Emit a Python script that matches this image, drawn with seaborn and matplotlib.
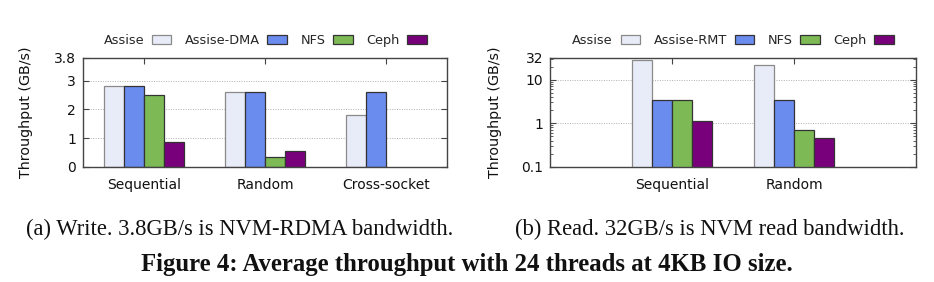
import matplotlib
matplotlib.use("Agg")
import matplotlib.pyplot as plt
import seaborn as sns
import pandas as pd
import numpy as np
from matplotlib.ticker import FixedLocator, NullFormatter, LogLocator

sns.set_theme(style="white")
plt.rcParams['font.family'] = ['DejaVu Sans']

# ---- data ----
write_categories = ["Sequential", "Random", "Cross-socket"]
write_series = ["Assise", "Assise-DMA", "NFS", "Ceph"]
write_assise = [2.82, 2.6, 1.8]
write_dma = [2.82, 2.6, 2.6]
write_nfs = [2.5, 0.35, np.nan]
write_ceph = [0.87, 0.53, np.nan]

read_categories = ["Sequential", "Random"]
read_series = ["Assise", "Assise-RMT", "NFS", "Ceph"]
read_assise = [28.5, 22.0]
read_rmt = [3.5, 3.5]
read_nfs = [3.5, 0.70]
read_ceph = [1.1, 0.45]

write_yticks = [0, 1, 2, 3, 3.8]
write_yticklabels = ["0", "1", "2", "3", "3.8"]
read_yticks = [0.1, 1, 10, 32]
read_yticklabels = ["0.1", "1", "10", "32"]

caption_a = "(a) Write. 3.8GB/s is NVM-RDMA bandwidth."
caption_b = "(b) Read. 32GB/s is NVM read bandwidth."
fig_caption = "Figure 4: Average throughput with 24 threads at 4KB IO size."

colors = ["#e8ecf8", "#6a8cee", "#7dba55", "#78007a"]
edgecolors = ["#8a8a8a", "#333333", "#333333", "#333333"]


def long_df(cats, series, values):
    rows = []
    for s, vals in zip(series, values):
        for c, v in zip(cats, vals):
            rows.append({"cat": c, "series": s, "val": v})
    return pd.DataFrame(rows)


df_w = long_df(write_categories, write_series, [write_assise, write_dma, write_nfs, write_ceph])
df_r = long_df(read_categories, read_series, [read_assise, read_rmt, read_nfs, read_ceph])

W, H = 934, 282
fig = plt.figure(figsize=(W / 100, H / 100), dpi=100)


def add_axes_px(x0, x1, ytop, ybot):
    return fig.add_axes([x0 / W, (H - ybot) / H, (x1 - x0) / W, (ybot - ytop) / H])


ax1 = add_axes_px(83, 447, 57.7, 166.7)
ax2 = add_axes_px(550, 916, 57.7, 166.7)

frame_color = "#444444"


def style_common(ax, series, label_x):
    for cont, fc, ec in zip(ax.containers, colors, edgecolors):
        for p in cont:
            p.set_facecolor(fc)
            p.set_edgecolor(ec)
            p.set_linewidth(0.9)
    for sp in ax.spines.values():
        sp.set_visible(True)
        sp.set_color(frame_color)
        sp.set_linewidth(1.0)
    ax.set_xlabel("")
    ax.set_ylabel("Throughput (GB/s)", fontsize=10.3, color="#111111")
    ax.yaxis.set_label_coords(label_x, 0.5)
    ax.tick_params(axis="both", which="both", direction="in", top=True, right=True,
                   bottom=True, left=True, colors=frame_color, labelcolor="#111111",
                   labelsize=10)
    ax.tick_params(axis="both", which="major", length=4, width=0.8)
    ax.tick_params(axis="x", pad=8)
    ax.tick_params(axis="y", pad=5)
    ax.set_axisbelow(True)
    leg = ax.get_legend()
    if leg is not None:
        leg.remove()
    handles = [plt.Rectangle((0, 0), 1, 1, facecolor=fc, edgecolor=ec, linewidth=0.9)
               for fc, ec in zip(colors, edgecolors)]
    ax.legend(handles, series, loc="lower center", bbox_to_anchor=(0.5, 1.0),
              ncol=4, frameon=False, markerfirst=False, fontsize=9.3,
              handlelength=1.5, handleheight=0.7, columnspacing=1.05,
              handletextpad=0.6, borderaxespad=0.45)


# ---- left: write ----
sns.barplot(data=df_w, x="cat", y="val", hue="series", ax=ax1, width=0.66,
            palette=colors, saturation=1, errorbar=None, legend=True)
ax1.set_xlim(-0.5, 2.5)
ax1.set_ylim(0, 3.8)
ax1.set_yticks(write_yticks)
ax1.set_yticklabels(write_yticklabels)
for y in [1, 2, 3]:
    ax1.axhline(y, color="#b0b0b0", linestyle=(0, (1, 1.5)), linewidth=0.7, zorder=0)
style_common(ax1, write_series, -0.138)

# ---- right: read ----
sns.barplot(data=df_r, x="cat", y="val", hue="series", ax=ax2, width=0.66,
            palette=colors, saturation=1, errorbar=None, legend=True)
ax2.set_yscale("log")
ax2.set_xlim(-1, 2)
ax2.set_ylim(0.1, 32)
ax2.yaxis.set_major_locator(FixedLocator(read_yticks))
ax2.set_yticklabels(read_yticklabels)
ax2.yaxis.set_minor_locator(LogLocator(base=10, subs=np.arange(2, 10)))
ax2.yaxis.set_minor_formatter(NullFormatter())
for y in [1, 10]:
    ax2.axhline(y, color="#b0b0b0", linestyle=(0, (1, 1.5)), linewidth=0.7, zorder=0)
style_common(ax2, read_series, -0.132)
ax2.tick_params(axis="y", which="minor", length=2, width=0.6)

# ---- captions ----
fig.text(240 / W, 1 - 229 / H, caption_a, ha="center", va="center",
         fontsize=16.3, family="Liberation Serif", color="#111111")
fig.text(710 / W, 1 - 229 / H, caption_b, ha="center", va="center",
         fontsize=16.3, family="Liberation Serif", color="#111111")
fig.text(467 / W, 1 - 265 / H, fig_caption, ha="center", va="center",
         fontsize=17.8, family="Liberation Serif", weight="bold", color="#111111")

fig.savefig("out.png", dpi=100)
